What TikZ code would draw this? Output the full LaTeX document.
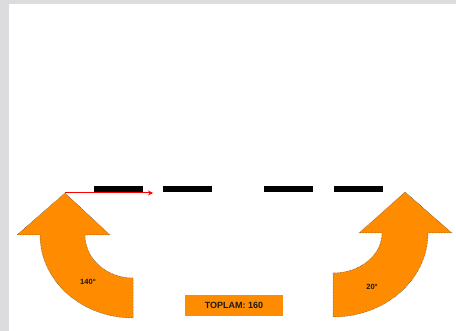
\documentclass[tikz,border=0pt]{standalone}
\usepackage{fontspec}
\setmainfont{Liberation Sans}
\usetikzlibrary{arrows.meta}
\definecolor{bgray}{HTML}{DCDCDE}
\definecolor{orng}{HTML}{FF8C00}
\tikzset{
  bar/.style={fill=black, draw=none, minimum width=49pt, minimum height=6pt, inner sep=0pt},
  bigarrow/.style={fill=orng, draw=black!75, line width=0.5pt, densely dotted},
  lbl/.style={font=\fontsize{7.5}{8}\selectfont\bfseries, text=black!90, inner sep=0pt},
  total/.style={fill=orng, minimum width=98pt, minimum height=21pt, inner sep=0pt, font=\fontsize{9}{10}\selectfont\bfseries, text=black!90}
}
\begin{document}
\begin{tikzpicture}[x=1pt,y=1pt]
\useasboundingbox (0,0) rectangle (456,-331);
\fill[bgray] (0,0) rectangle (456,-331);
\fill[white] (9,-4) rectangle (456,-331);
% dashes
\node[bar] (b1) at (118.5,-189) {};
\node[bar] (b2) at (187.5,-189) {};
\node[bar] (b3) at (288,-189) {};
\node[bar] (b4) at (358,-189) {};
% left curved arrow
\draw[bigarrow] (65,-193) -- (110,-235) -- (85,-235)
  arc[start angle=180, end angle=270, x radius=48, y radius=43]
  -- (133,-318)
  arc[start angle=270, end angle=180, x radius=93, y radius=83]
  -- (17,-235) -- cycle;
% right curved arrow
\draw[bigarrow] (405,-192) -- (359,-233) -- (382,-233)
  arc[start angle=0, end angle=-90, x radius=49, y radius=40]
  -- (333,-317)
  arc[start angle=-90, end angle=0, x radius=95, y radius=84]
  -- (452,-233) -- cycle;
\node[lbl] (l1) at (88,-282) {140°};
\node[lbl] (l2) at (372,-287) {20°};
% red arrow
\coordinate (tipL) at (65,-193);
\coordinate (redEnd) at (153,-193);
\draw[red, line width=1pt, -{Stealth[length=5pt,width=5pt]}] (tipL) -- (redEnd);
% total
\node[total] (tot) at (234,-305.5) {TOPLAM: 160};
\end{tikzpicture}
\end{document}
